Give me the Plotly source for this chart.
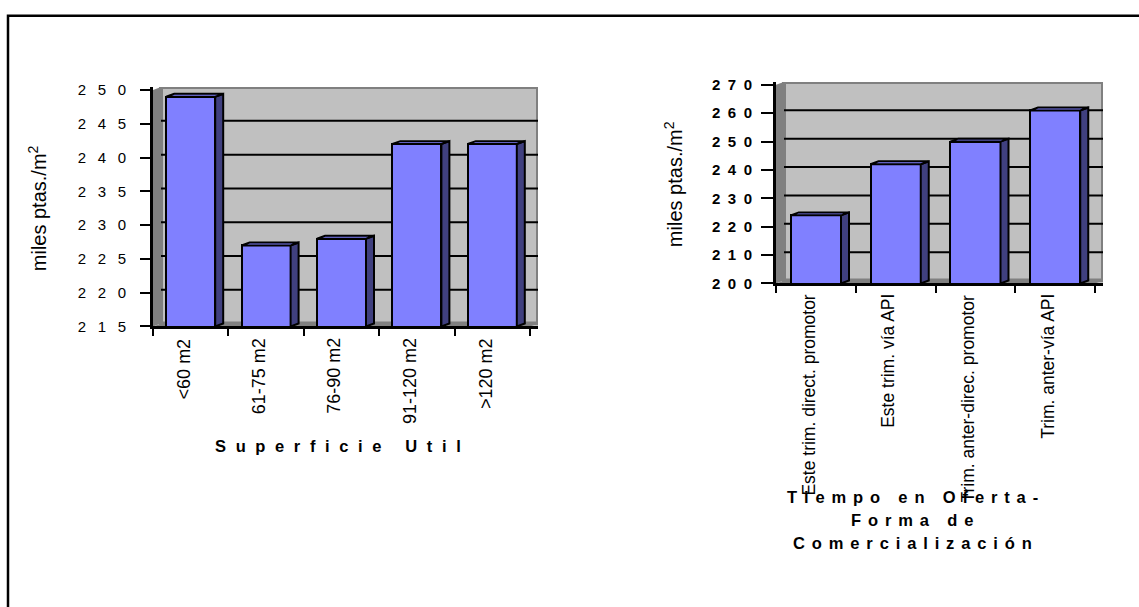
import plotly.graph_objects as go

W, H = 1139, 607

# ---- data -------------------------------------------------------------
sup_categories = ["<60 m2", "61-75 m2", "76-90 m2", "91-120 m2", ">120 m2"]
sup_values = [249, 227, 228, 242, 242]
sup_ticks = [215, 220, 225, 230, 235, 240, 245, 250]

com_categories = ["Este trim. direct. promotor", "Este trim. vía API",
                  "Trim. anter-direc. promotor", "Trim. anter-vía API"]
com_values = [224, 242, 250, 261]
com_ticks = [200, 210, 220, 230, 240, 250, 260, 270]

y_title = "miles ptas./m<sup>2</sup>"
sup_title = "Superficie Util"
com_title = ["Tiempo en Oferta-", "Forma de", "Comercialización"]

# ---- style ------------------------------------------------------------
FONT = "Liberation Sans, Arimo, Arial, sans-serif"
FRONT = "#8080FF"
SIDE = "#40407F"
WALL = "#C0C0C0"
WALL_DARK = "#808080"


def spaced(text, gap="\u2005\u2006"):
    word_gap = gap + "\u00a0" + gap
    return word_gap.join(gap.join(w) for w in text.split(" "))


fig = go.Figure()
shapes = []
annotations = []


def add_panel(idx, cats, vals, ticks, g):
    xs = "x" if idx == 1 else f"x{idx}"
    ys = "y" if idx == 1 else f"y{idx}"
    n = len(cats)
    cat_px = (g["x1"] - g["x0"]) / n
    unit_px = (g["ybot"] - g["ytop"]) / (ticks[-1] - ticks[0])
    ddx = g["dx"] / cat_px
    ddy = g["dy"] / unit_px
    ymin, ymax = ticks[0], ticks[-1]
    left, right = -0.5, n - 0.5
    bw = g["bw"]

    fig.update_layout({
        ("xaxis" if idx == 1 else f"xaxis{idx}"): dict(
            domain=[g["x0"] / W, (g["x1"] + g["dx"]) / W],
            range=[left, right + ddx], anchor=ys,
            tickvals=[i - 0.5 for i in range(n + 1)], showticklabels=False,
            ticks="outside", ticklen=7, tickwidth=2, tickcolor="black",
            showline=True, linewidth=3, linecolor="black",
            showgrid=False, zeroline=False, fixedrange=True),
        ("yaxis" if idx == 1 else f"yaxis{idx}"): dict(
            domain=[1 - g["ybot"] / H, 1 - (g["ytop"] - g["dy"]) / H],
            range=[ymin, ymax + ddy], anchor=xs,
            tickvals=ticks, ticktext=[g["tsep"].join(str(t)) for t in ticks],
            ticks="outside", ticklen=g["ticklen"], tickwidth=2, tickcolor="black",
            ticklabelstandoff=g["standoff"],
            tickfont=dict(family=FONT, size=g["tsize"], color="black",
                          weight=g["tweight"]),
            showline=True, linewidth=3, linecolor="black",
            showgrid=False, zeroline=False, fixedrange=True),
    })

    # walls and floor
    shapes.append(dict(type="rect", xref=xs, yref=ys, layer="below",
                       x0=left + ddx, x1=right + ddx, y0=ymin + ddy, y1=ymax + ddy,
                       fillcolor=WALL, line=dict(color=WALL_DARK, width=4)))
    shapes.append(dict(type="path", xref=xs, yref=ys, layer="below",
                       path=f"M{left},{ymin} L{left + ddx},{ymin + ddy} "
                            f"L{left + ddx},{ymax + ddy} L{left},{ymax} Z",
                       fillcolor=WALL_DARK, line=dict(width=0)))
    shapes.append(dict(type="path", xref=xs, yref=ys, layer="below",
                       path=f"M{left},{ymin} L{right},{ymin} "
                            f"L{right + ddx},{ymin + ddy} L{left + ddx},{ymin + ddy} Z",
                       fillcolor=WALL_DARK, line=dict(width=0)))
    for t in ticks[1:-1]:
        shapes.append(dict(type="line", xref=xs, yref=ys, layer="below",
                           x0=left + ddx, x1=right + ddx, y0=t + ddy, y1=t + ddy,
                           line=dict(color="black", width=2)))

    # front faces
    fig.add_trace(go.Bar(x=list(range(n)), y=vals, width=bw,
                         marker=dict(color=FRONT, line=dict(color="black", width=2)),
                         xaxis=xs, yaxis=ys, showlegend=False, hoverinfo="skip"))

    # side and top faces
    sx, sy, tx, ty = [], [], [], []
    for i, v in enumerate(vals):
        xl, xr = i - bw / 2, i + bw / 2
        sx += [xr, xr + ddx, xr + ddx, xr, xr, None]
        sy += [ymin, ymin + ddy, v + ddy, v, ymin, None]
        tx += [xl, xl + ddx, xr + ddx, xr, xl, None]
        ty += [v, v + ddy, v + ddy, v, v, None]
    fig.add_trace(go.Scatter(x=sx, y=sy, mode="lines", fill="toself",
                             fillcolor=SIDE, line=dict(color="black", width=2),
                             xaxis=xs, yaxis=ys, showlegend=False, hoverinfo="skip"))
    fig.add_trace(go.Scatter(x=tx, y=ty, mode="lines", fill="toself",
                             fillcolor=FRONT, line=dict(color="black", width=2),
                             xaxis=xs, yaxis=ys, showlegend=False, hoverinfo="skip"))

    # category labels
    for i, c in enumerate(cats):
        annotations.append(dict(text=c, x=i, xref=xs, y=1 - g["label_top"] / H,
                                yref="paper", textangle=-90, xanchor="center",
                                yanchor="top", xshift=-7, showarrow=False,
                                font=dict(family=FONT, size=g["lsize"], color="black")))

    # value-axis title
    annotations.append(dict(text=y_title, x=g["ytitle_x"] / W, xref="paper",
                            y=1 - (g["ybot"] + g["ytop"]) / 2 / H, yref="paper",
                            textangle=-90, xanchor="center", yanchor="middle",
                            showarrow=False,
                            font=dict(family=FONT, size=g["ytsize"], color="black")))


left_geom = dict(x0=153, x1=530, ybot=328, ytop=86, dx=8, dy=3, bw=0.65,
                 tsep="\u2002\u00a0", tsize=15, tweight="normal", ticklen=10,
                 standoff=11, label_top=338, lsize=18, ytitle_x=37, ytsize=20)
right_geom = dict(x0=776, x1=1095, ybot=284, ytop=80.7, dx=8, dy=3, bw=0.63,
                  tsep="\u2002", tsize=15, tweight="bold", ticklen=12, standoff=6,
                  label_top=293, lsize=17.5, ytitle_x=673, ytsize=20)

add_panel(1, sup_categories, sup_values, sup_ticks, left_geom)
add_panel(2, com_categories, com_values, com_ticks, right_geom)

# category-axis titles
annotations.append(dict(text=spaced(sup_title, gap="\u2002\u200a"), x=338 / W,
                        y=1 - 450 / H, xref="paper", yref="paper",
                        xanchor="center", yanchor="middle", showarrow=False,
                        font=dict(family=FONT, size=16.5, color="black", weight="bold")))
for k, line in enumerate(com_title):
    annotations.append(dict(text=spaced(line), x=912 / W, y=1 - (503 + 23.5 * k) / H,
                            xref="paper", yref="paper", xanchor="center",
                            yanchor="middle", showarrow=False,
                            font=dict(family=FONT, size=16.5, color="black",
                                      weight="bold")))

# outer frame
shapes.append(dict(type="rect", xref="paper", yref="paper",
                   x0=8 / W, x1=1.02, y0=-0.02, y1=1 - 10 / H,
                   line=dict(color="black", width=2.5), fillcolor="rgba(0,0,0,0)"))

fig.update_layout(width=W, height=H, autosize=False,
                  margin=dict(l=0, r=0, t=0, b=0),
                  paper_bgcolor="white", plot_bgcolor="white",
                  shapes=shapes, annotations=annotations,
                  font=dict(family=FONT, color="black"), bargap=0)

fig.write_html("out.html")
